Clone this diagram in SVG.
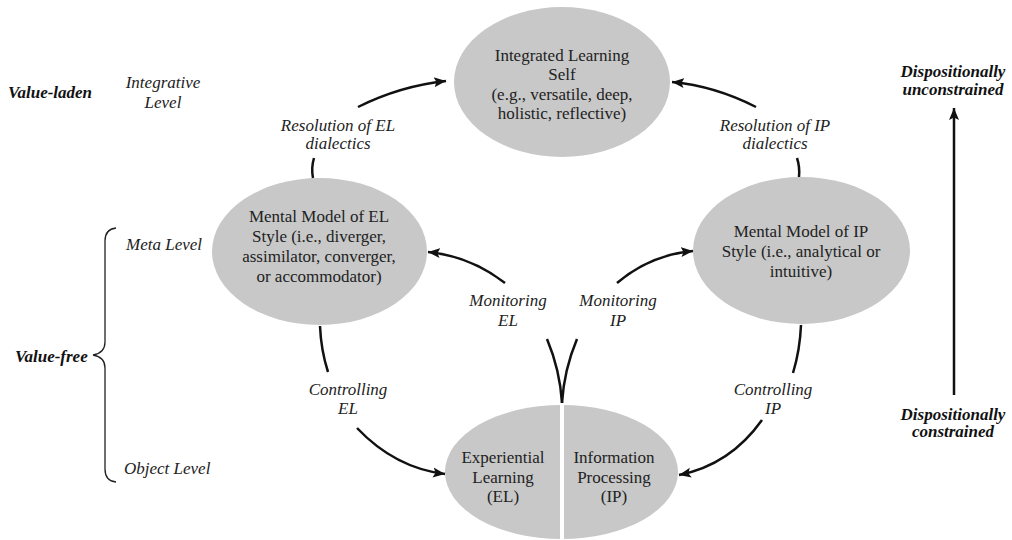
<svg xmlns="http://www.w3.org/2000/svg" width="1012" height="540" viewBox="0 0 1012 540">
  <style>
    .node { fill: #c8c8c8; stroke: none; }
    .nt { font-family: "Liberation Serif", "Times New Roman", Times, serif; font-size: 17px; fill: #222; text-anchor: middle; }
    .lab { font-family: "Liberation Serif", "Times New Roman", Times, serif; font-size: 17px; font-style: italic; fill: #222; text-anchor: middle; }
    .side { font-family: "Liberation Serif", "Times New Roman", Times, serif; font-size: 17px; font-style: italic; fill: #222; }
    .bold { font-family: "Liberation Serif", "Times New Roman", Times, serif; font-size: 17px; font-style: italic; font-weight: bold; fill: #111; }
    .conn { fill: none; stroke: #111; stroke-width: 2.5; }
    .arr { marker-end: url(#head); }
  </style>
  <defs>
    <marker id="head" markerUnits="userSpaceOnUse" markerWidth="14" markerHeight="12" refX="12" refY="6" orient="auto">
      <path d="M0,1 L12,6 L0,11 L2.5,6 Z" fill="#111"/>
    </marker>
  </defs>

  <rect width="1012" height="540" fill="#fff"/>

  <!-- level labels on the left -->
  <g id="levels">
    <text class="bold" x="8" y="98">Value-laden</text>
    <text class="lab" x="163" y="88">Integrative</text>
    <text class="lab" x="163" y="108">Level</text>
    <text class="side" x="126" y="250">Meta Level</text>
    <text class="side" x="124" y="474">Object Level</text>
    <text class="bold" x="15" y="362">Value-free</text>
    <path d="M116,228 Q105,229 105,241 L105,342 Q105,353 93,355 Q105,357 105,368 L105,469 Q105,481 116,482" fill="none" stroke="#222" stroke-width="1.3"/>
  </g>

  <!-- nodes -->
  <g id="integrated-self">
    <ellipse class="node" cx="562" cy="82" rx="108" ry="75"/>
    <text class="nt" x="562" y="61">Integrated Learning</text>
    <text class="nt" x="562" y="80">Self</text>
    <text class="nt" x="562" y="100">(e.g., versatile, deep,</text>
    <text class="nt" x="562" y="119">holistic, reflective)</text>
  </g>

  <g id="mm-el">
    <ellipse class="node" cx="319.5" cy="251.5" rx="107.5" ry="73.5"/>
    <text class="nt" x="319" y="222">Mental Model of EL</text>
    <text class="nt" x="319" y="242">Style (i.e., diverger,</text>
    <text class="nt" x="319" y="262">assimilator, converger,</text>
    <text class="nt" x="319" y="282">or accommodator)</text>
  </g>

  <g id="mm-ip">
    <ellipse class="node" cx="801.5" cy="250.5" rx="108.5" ry="73.5"/>
    <text class="nt" x="801" y="237">Mental Model of IP</text>
    <text class="nt" x="801" y="257">Style (i.e., analytical or</text>
    <text class="nt" x="801" y="277">intuitive)</text>
  </g>

  <g id="el-ip">
    <ellipse class="node" cx="561.5" cy="472" rx="116.5" ry="67"/>
    <rect x="560" y="400" width="4" height="140" fill="#fff"/>
    <text class="nt" x="503" y="463">Experiential</text>
    <text class="nt" x="503" y="483">Learning</text>
    <text class="nt" x="503" y="502">(EL)</text>
    <text class="nt" x="614" y="463">Information</text>
    <text class="nt" x="614" y="483">Processing</text>
    <text class="nt" x="614" y="502">(IP)</text>
  </g>

  <!-- connectors -->
  <g id="connectors">
    <path class="conn" d="M313,178 Q311,168 314,158"/>
    <path class="conn arr" d="M358,107 Q400,86 446,81"/>
    <path class="conn" d="M799,177 Q800,167 797,158"/>
    <path class="conn arr" d="M756,107 Q715,86 672,82"/>
    <path class="conn arr" d="M505,283 Q470,256 428,252"/>
    <path class="conn arr" d="M617,283 Q650,255 693,251"/>
    <path class="conn" d="M547,339 Q560,370 562,403"/>
    <path class="conn" d="M577,339 Q564,370 562,403"/>
    <path class="conn" d="M320,326 Q321,350 328,372"/>
    <path class="conn arr" d="M357,428 Q395,468 445,474"/>
    <path class="conn" d="M801,325 Q800,350 793,373"/>
    <path class="conn arr" d="M762,420 Q730,465 679,475"/>
    <path class="conn arr" d="M954,395 L954,108"/>
  </g>

  <!-- connector labels -->
  <g id="connector-labels">
    <text class="lab" x="338" y="131">Resolution of EL</text>
    <text class="lab" x="338" y="149">dialectics</text>
    <text class="lab" x="775" y="131">Resolution of IP</text>
    <text class="lab" x="775" y="149">dialectics</text>
    <text class="lab" x="508" y="306">Monitoring</text>
    <text class="lab" x="508" y="326">EL</text>
    <text class="lab" x="618" y="306">Monitoring</text>
    <text class="lab" x="618" y="326">IP</text>
    <text class="lab" x="348" y="395">Controlling</text>
    <text class="lab" x="348" y="414">EL</text>
    <text class="lab" x="773" y="395">Controlling</text>
    <text class="lab" x="773" y="414">IP</text>
  </g>

  <!-- disposition scale on the right -->
  <g id="disposition">
    <text class="bold" x="953" y="77" text-anchor="middle">Dispositionally</text>
    <text class="bold" x="953" y="95" text-anchor="middle">unconstrained</text>
    <text class="bold" x="953" y="420" text-anchor="middle">Dispositionally</text>
    <text class="bold" x="953" y="437" text-anchor="middle">constrained</text>
  </g>
</svg>
